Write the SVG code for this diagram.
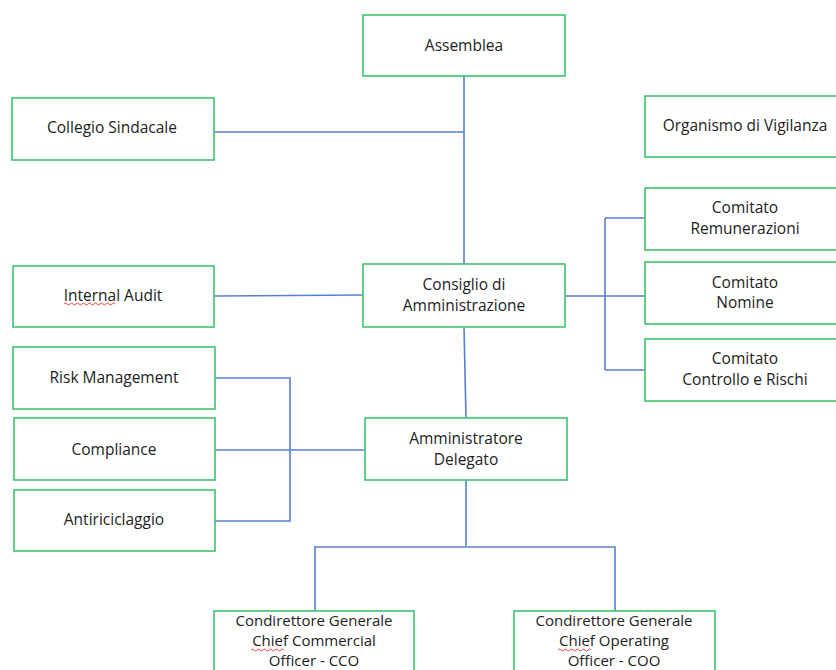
<svg xmlns="http://www.w3.org/2000/svg" width="836" height="670" viewBox="0 0 836 670">
<defs>
<style>
.box{fill:#fff;stroke:#3cc46e;stroke-width:1.6}
.lbl{font-family:"Open Sans","Liberation Sans",sans-serif;font-size:15.5px;fill:#222;text-anchor:middle}
.sm{font-size:15px}
.con{fill:none;stroke:#5580cf;stroke-width:1.6}
.sq{fill:none;stroke:#e03030;stroke-width:0.9}
</style>
</defs>
<rect width="836" height="670" fill="#fff"/>
<g id="connectors">
<path class="con" d="M464 76V264"/>
<path class="con" d="M214 132H464"/>
<path class="con" d="M214 296L363 295"/>
<path class="con" d="M464 327L466 418"/>
<path class="con" d="M565 296H605" stroke-width="2.4"/>
<path class="con" d="M605 218V370M605 218H645M605 296H645M605 370H645"/>
<path class="con" d="M215 378H290V521H215M215 450H290"/>
<path class="con" d="M290 450H365" stroke-width="2.4"/>
<path class="con" d="M466 480V546M315 611V547H615V611"/>
</g>
<g id="assemblea"><rect class="box" x="363" y="15" width="202" height="61"/><text class="lbl" x="464" y="51">Assemblea</text></g>
<g id="collegio"><rect class="box" x="12" y="98" width="202" height="62"/><text class="lbl" x="112" y="133">Collegio Sindacale</text></g>
<g id="odv"><rect class="box" x="645" y="96" width="195" height="61"/><text class="lbl" x="745" y="131">Organismo di Vigilanza</text></g>
<g id="remunerazioni"><rect class="box" x="645" y="188" width="195" height="62"/><text class="lbl" x="745" y="213">Comitato</text><text class="lbl" x="745" y="234">Remunerazioni</text></g>
<g id="nomine"><rect class="box" x="645" y="262" width="195" height="62"/><text class="lbl" x="745" y="288">Comitato</text><text class="lbl" x="745" y="308">Nomine</text></g>
<g id="controllo"><rect class="box" x="645" y="339" width="195" height="62"/><text class="lbl" x="745" y="364">Comitato</text><text class="lbl" x="745" y="385">Controllo e Rischi</text></g>
<g id="consiglio"><rect class="box" x="363" y="264" width="202" height="63"/><text class="lbl" x="464" y="290">Consiglio di</text><text class="lbl" x="464" y="311">Amministrazione</text></g>
<g id="internal-audit"><rect class="box" x="13" y="266" width="201" height="61"/><text class="lbl" x="113" y="301">Internal Audit</text><path class="sq" d="M64 304q1.5 -2 3 0t3 0t3 0t3 0t3 0t3 0t3 0t3 0t3 0t3 0t3 0t3 0t3 0t3 0t3 0t3 0t3 0"/></g>
<g id="risk"><rect class="box" x="13" y="347" width="202" height="62"/><text class="lbl" x="114" y="383">Risk Management</text></g>
<g id="compliance"><rect class="box" x="14" y="418" width="201" height="62"/><text class="lbl" x="114" y="455">Compliance</text></g>
<g id="antiriciclaggio"><rect class="box" x="14" y="490" width="201" height="61"/><text class="lbl" x="114" y="525">Antiriciclaggio</text></g>
<g id="ad"><rect class="box" x="365" y="418" width="202" height="62"/><text class="lbl" x="466" y="444">Amministratore</text><text class="lbl" x="466" y="465">Delegato</text></g>
<g id="cco"><rect class="box" x="214" y="611" width="200" height="64"/><text class="lbl sm" x="314" y="626">Condirettore Generale</text><text class="lbl sm" x="314" y="646">Chief Commercial</text><text class="lbl sm" x="314" y="666">Officer - CCO</text><path class="sq" d="M251 650q1.5 -2 3 0t3 0t3 0t3 0t3 0t3 0t3 0t3 0t3 0t3 0t3 0"/></g>
<g id="coo"><rect class="box" x="514" y="611" width="201" height="64"/><text class="lbl sm" x="614" y="626">Condirettore Generale</text><text class="lbl sm" x="614" y="646">Chief Operating</text><text class="lbl sm" x="614" y="666">Officer - COO</text><path class="sq" d="M558 650q1.5 -2 3 0t3 0t3 0t3 0t3 0t3 0t3 0t3 0t3 0t3 0t3 0"/></g>
</svg>
